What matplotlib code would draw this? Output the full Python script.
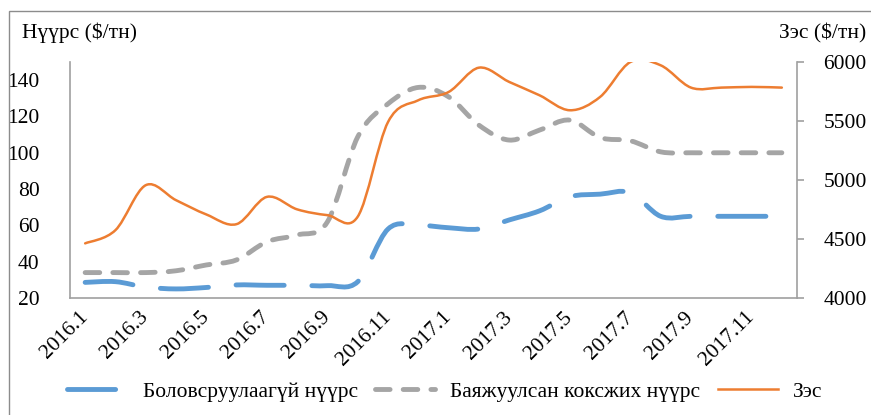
import matplotlib.pyplot as plt
from matplotlib.path import Path
from matplotlib.patches import PathPatch, Rectangle
from matplotlib.lines import Line2D

months = [f"2016.{m}" for m in range(1, 13)] + [f"2017.{m}" for m in range(1, 13)]

# Боловсруулаагүй нүүрс, $/тн (left axis)
raw_coal = [28.6, 29, 26, 25, 25.8, 27.2, 27, 27, 26.8, 29, 58, 60,
            58.7, 58, 63, 68, 75.8, 77.2, 78, 65, 65, 65, 65, 65]
# Баяжуулсан коксжих нүүрс, $/тн (left axis)
coking_coal = [34, 34, 34, 35, 38.2, 41, 51, 54.7, 62, 108.8, 127, 136,
               130.8, 115.2, 107, 112.5, 118, 108.4, 106.6, 100.5, 100, 100, 100, 100]
# Зэс, $/тн (right axis)
copper = [4463, 4575, 4956, 4829, 4708, 4626, 4857, 4751, 4702, 4690, 5492, 5676,
          5746, 5952, 5831, 5718, 5591, 5704, 6000, 5972, 5783, 5783, 5789, 5783]

BLUE = "#5B9BD5"
GRAY = "#A5A5A5"
ORANGE = "#ED7D31"

plt.rcParams["font.family"] = "serif"
plt.rcParams["font.serif"] = ["Liberation Serif", "DejaVu Serif"]
FS = 15.5


def smooth_path(ys):
    # Excel-style smoothed line: cubic bezier through every point
    xs = list(range(len(ys)))
    pts = list(zip(xs, ys))
    verts = [pts[0]]
    codes = [Path.MOVETO]
    n = len(pts)
    for i in range(n - 1):
        p0 = pts[i - 1] if i > 0 else pts[i]
        p1 = pts[i]
        p2 = pts[i + 1]
        p3 = pts[i + 2] if i + 2 < n else pts[i + 1]
        c1 = (p1[0] + (p2[0] - p0[0]) / 6, p1[1] + (p2[1] - p0[1]) / 6)
        c2 = (p2[0] - (p3[0] - p1[0]) / 6, p2[1] - (p3[1] - p1[1]) / 6)
        verts += [c1, c2, p2]
        codes += [Path.CURVE4] * 3
    return Path(verts, codes)


fig = plt.figure(figsize=(8.71, 4.15), dpi=100)
ax = fig.add_axes([70 / 871, 1 - 298 / 415, 727 / 871, 236 / 415])
ax2 = ax.twinx()

blue_ls = (0, (9.9, 5.7))
gray_ls = (0, (3.0, 2.7))

ax.add_patch(PathPatch(smooth_path(raw_coal), fill=False, edgecolor=BLUE, lw=3.5,
                       linestyle=blue_ls, capstyle="round", joinstyle="round"))
ax.add_patch(PathPatch(smooth_path(coking_coal), fill=False, edgecolor=GRAY, lw=3.5,
                       linestyle=gray_ls, capstyle="round", joinstyle="round"))
ax2.add_patch(PathPatch(smooth_path(copper), fill=False, edgecolor=ORANGE, lw=1.8,
                        capstyle="round", joinstyle="round"))

ax.set_xlim(-0.5, len(months) - 0.5)
ax.set_ylim(20, 150)
ax.set_yticks(range(20, 141, 20))
ax2.set_ylim(4000, 6000)
ax2.set_yticks(range(4000, 6001, 500))

ax.set_xticks(range(0, len(months), 2))
ax.set_xticklabels(months[::2], rotation=45, ha="right", va="center",
                   rotation_mode="anchor", fontsize=FS)

for a in (ax, ax2):
    for s in a.spines.values():
        s.set_color("#A0A0A0")
        s.set_linewidth(1.2)
    a.spines["top"].set_visible(False)
ax.spines["right"].set_visible(False)
ax2.spines["left"].set_visible(False)
ax2.spines["bottom"].set_visible(False)

ax.tick_params(axis="x", length=0, pad=12, labelsize=FS)
ax.tick_params(axis="y", length=0, pad=22, labelsize=FS)
ax2.tick_params(axis="y", length=5, width=1.2, color="#A0A0A0", pad=14, labelsize=FS)

fig.text(22 / 871, 1 - 33 / 415, "Нүүрс ($/тн)", fontsize=FS, va="center", ha="left")
fig.text(866 / 871, 1 - 33 / 415, "Зэс ($/тн)", fontsize=FS, va="center", ha="right")

handles = [
    Line2D([], [], color=BLUE, lw=3.5, linestyle=blue_ls, solid_capstyle="round",
           dash_capstyle="round"),
    Line2D([], [], color=GRAY, lw=3.5, linestyle=gray_ls, dash_capstyle="round"),
    Line2D([], [], color=ORANGE, lw=1.8),
]
labels = ["Боловсруулаагүй нүүрс", "Баяжуулсан коксжих нүүрс", "Зэс"]
fig.legend(handles, labels, loc="center", bbox_to_anchor=(445 / 871, 1 - 392 / 415),
           ncol=3, frameon=False, fontsize=FS, handlelength=2.8, columnspacing=0.8,
           handletextpad=0.7)

# chart area border
fig.add_artist(Rectangle((9 / 871, -0.1), 1.2, 1.1 - 11 / 415, transform=fig.transFigure,
                         fill=False, edgecolor="#8C8C8C", lw=1.0))

fig.savefig("out.png", dpi=100)
